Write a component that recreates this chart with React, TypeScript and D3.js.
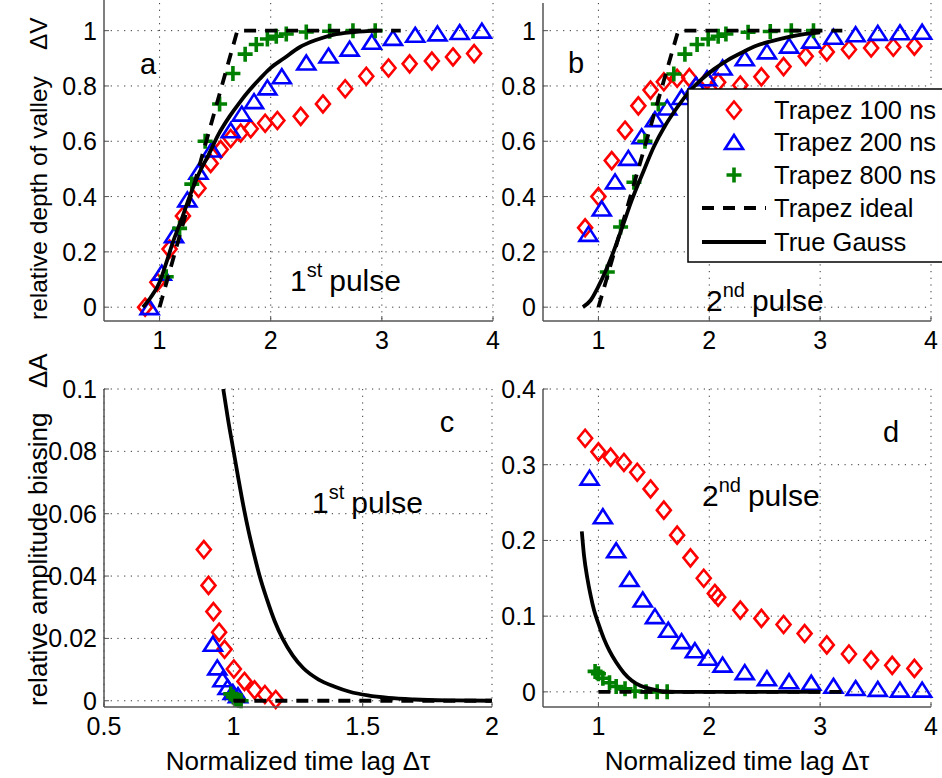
import { useEffect, useRef } from "react";
import * as d3 from "d3";

// ---- panel a (1st pulse, relative depth of valley) ----
const aT100X = [0.87, 0.98, 1.09, 1.21, 1.35, 1.46, 1.55, 1.64, 1.73, 1.82, 1.95, 2.06, 2.27, 2.47, 2.67, 2.86, 3.06, 3.25, 3.45, 3.64, 3.83];
const aT100Y = [0.0, 0.09, 0.21, 0.33, 0.43, 0.52, 0.57, 0.61, 0.63, 0.645, 0.665, 0.675, 0.69, 0.735, 0.79, 0.835, 0.865, 0.88, 0.89, 0.905, 0.917];
const aT200X = [0.91, 1.02, 1.13, 1.25, 1.35, 1.47, 1.64, 1.74, 1.85, 1.97, 2.1, 2.32, 2.52, 2.71, 2.91, 3.1, 3.3, 3.5, 3.7, 3.9];
const aT200Y = [0.0, 0.125, 0.26, 0.39, 0.49, 0.57, 0.64, 0.7, 0.745, 0.795, 0.835, 0.885, 0.91, 0.935, 0.96, 0.974, 0.985, 0.99, 0.995, 1.0];
const aT800X = [1.06, 1.18, 1.29, 1.41, 1.54, 1.66, 1.77, 1.87, 1.97, 2.05, 2.14, 2.32, 2.53, 2.74, 2.94];
const aT800Y = [0.11, 0.285, 0.445, 0.6, 0.735, 0.845, 0.915, 0.95, 0.97, 0.98, 0.988, 0.995, 0.998, 1.0, 1.0];
const aIdealX = [1.0, 1.7, 3.17];
const aIdealY = [0, 1, 1];
const aGaussX = [0.85, 0.92, 1.0, 1.06, 1.12, 1.2, 1.27, 1.35, 1.44, 1.53, 1.63, 1.72, 1.81, 1.9, 1.99, 2.12, 2.26, 2.4, 2.56, 2.75, 2.96];
const aGaussY = [0, 0.035, 0.09, 0.16, 0.235, 0.32, 0.4, 0.48, 0.55, 0.625, 0.69, 0.74, 0.785, 0.825, 0.862, 0.9, 0.94, 0.965, 0.985, 0.995, 1.0];

// ---- panel b (2nd pulse, relative depth of valley) ----
const bT100X = [0.88, 1.0, 1.12, 1.24, 1.36, 1.47, 1.59, 1.71, 1.82, 1.98, 2.08, 2.28, 2.47, 2.67, 2.87, 3.06, 3.26, 3.46, 3.66, 3.85];
const bT100Y = [0.287, 0.4, 0.53, 0.64, 0.728, 0.785, 0.815, 0.828, 0.83, 0.82, 0.813, 0.803, 0.833, 0.87, 0.907, 0.923, 0.932, 0.937, 0.94, 0.944];
const bT200X = [0.91, 1.03, 1.15, 1.27, 1.39, 1.51, 1.62, 1.75, 1.88, 1.98, 2.12, 2.32, 2.52, 2.72, 2.92, 3.12, 3.32, 3.52, 3.72, 3.92];
const bT200Y = [0.265, 0.357, 0.455, 0.54, 0.618, 0.68, 0.722, 0.76, 0.805, 0.828, 0.867, 0.9, 0.925, 0.946, 0.964, 0.978, 0.987, 0.992, 0.994, 0.996];
const bT800X = [1.08, 1.2, 1.32, 1.42, 1.54, 1.68, 1.78, 1.89, 1.99, 2.08, 2.15, 2.35, 2.55, 2.74, 2.94];
const bT800Y = [0.127, 0.29, 0.452, 0.6, 0.735, 0.843, 0.915, 0.95, 0.97, 0.98, 0.988, 0.994, 0.997, 1.0, 1.0];
const bIdealX = [1.0, 1.72, 3.2];
const bIdealY = [0, 1, 1];
const bGaussX = [0.86, 0.93, 1.0, 1.07, 1.14, 1.22, 1.3, 1.4, 1.5, 1.6, 1.71, 1.81, 1.92, 2.04, 2.16, 2.3, 2.43, 2.58, 2.73, 2.87, 3.0];
const bGaussY = [0, 0.025, 0.075, 0.135, 0.205, 0.295, 0.386, 0.485, 0.58, 0.655, 0.722, 0.775, 0.82, 0.86, 0.892, 0.922, 0.946, 0.964, 0.978, 0.988, 0.994];

// ---- panel c (1st pulse, amplitude biasing) ----
const cT100X = [0.886, 0.904, 0.923, 0.945, 0.966, 1.002, 1.043, 1.082, 1.122, 1.164];
const cT100Y = [0.0485, 0.037, 0.0286, 0.022, 0.0165, 0.0102, 0.0062, 0.0035, 0.002, 0.0004];
const cT200X = [0.921, 0.938, 0.958, 0.978, 0.998, 1.018];
const cT200Y = [0.0183, 0.0107, 0.0069, 0.0044, 0.0028, 0.0018];
const cT800X = [0.99, 1.0, 1.01, 1.02, 1.03];
const cT800Y = [0.0022, 0.0012, 0.0005, 0.0002, 0.0];
const cIdealX = [1.0, 3.2];
const cIdealY = [0, 0];
const cGaussX = [0.961, 0.98, 1.0, 1.02, 1.04, 1.06, 1.08, 1.1, 1.13, 1.16, 1.19, 1.23, 1.27, 1.33, 1.39, 1.45, 1.52, 1.6, 1.7, 1.85, 2.0];
const cGaussY = [0.1, 0.09, 0.0805, 0.071, 0.062, 0.054, 0.047, 0.0405, 0.0325, 0.0255, 0.02, 0.0145, 0.0105, 0.0068, 0.0046, 0.0029, 0.0017, 0.0009, 0.0004, 0.0001, 0.0];

// ---- panel d (2nd pulse, amplitude biasing) ----
const dT100X = [0.88, 1.0, 1.11, 1.23, 1.35, 1.47, 1.59, 1.71, 1.83, 1.95, 2.05, 2.08, 2.28, 2.47, 2.67, 2.86, 3.06, 3.26, 3.46, 3.65, 3.85];
const dT100Y = [0.335, 0.317, 0.31, 0.303, 0.29, 0.268, 0.24, 0.207, 0.177, 0.15, 0.13, 0.125, 0.108, 0.097, 0.089, 0.077, 0.062, 0.05, 0.042, 0.035, 0.031];
const dT200X = [0.92, 1.04, 1.16, 1.28, 1.4, 1.51, 1.63, 1.75, 1.87, 1.99, 2.12, 2.32, 2.52, 2.72, 2.92, 3.12, 3.32, 3.52, 3.72, 3.92];
const dT200Y = [0.283, 0.232, 0.187, 0.149, 0.122, 0.1, 0.082, 0.067, 0.055, 0.045, 0.036, 0.026, 0.018, 0.014, 0.012, 0.008, 0.005, 0.004, 0.003, 0.003];
const dT800X = [0.97, 1.0, 1.04, 1.1, 1.16, 1.24, 1.33, 1.43, 1.53, 1.62];
const dT800Y = [0.027, 0.024, 0.018, 0.012, 0.007, 0.004, 0.001, 0.0, 0.0, 0.0];
const dIdealX = [1.0, 3.2];
const dIdealY = [0, 0];
const dGaussX = [0.85, 0.87, 0.9, 0.93, 0.96, 1.0, 1.05, 1.1, 1.16, 1.23, 1.3, 1.38, 1.47, 1.57, 1.7, 2.0, 2.5, 3.0];
const dGaussY = [0.212, 0.18, 0.15, 0.127, 0.108, 0.09, 0.07, 0.054, 0.039, 0.025, 0.015, 0.008, 0.004, 0.001, 0.0, 0.0, 0.0, 0.0];

const xTicksWide = [1, 2, 3, 4];
const xTicksC = [0.5, 1, 1.5, 2];
const yTicksTop = [0, 0.2, 0.4, 0.6, 0.8, 1];
const yTicksC = [0, 0.02, 0.04, 0.06, 0.08, 0.1];
const yTicksD = [0, 0.1, 0.2, 0.3, 0.4];
const legendLabels = ["Trapez 100 ns", "Trapez 200 ns", "Trapez 800 ns", "Trapez ideal", "True Gauss"];

const FONT = "Liberation Sans, Arial, Helvetica, sans-serif";
const RED = "#ff0000";
const BLUE = "#0000ff";
const GREEN = "#008000";

const zip = (xs, ys) => xs.map((x, i) => [x, ys[i]]);
const fmt = (v) => String(+v.toFixed(4));

const markerPath = {
  diamond: "M0,-8.5L7,0L0,8.5L-7,0Z",
  triangle: "M0,-7L9,7L-9,7Z",
  plus: "M-7.5,0H7.5M0,-7.5V7.5",
};
const markerStyle = {
  diamond: { stroke: RED, width: 2.6 },
  triangle: { stroke: BLUE, width: 2.6 },
  plus: { stroke: GREEN, width: 3.6 },
};

function drawPanel(svg, p, idx) {
  const x = d3.scaleLinear().domain(p.xDomain).range([p.left, p.right]);
  const y = d3.scaleLinear().domain(p.yDomain).range([p.bottom, p.top]);
  const g = svg.append("g");

  // grid
  g.selectAll(".gx")
    .data(p.xTicks)
    .join("line")
    .attr("x1", (d) => x(d))
    .attr("x2", (d) => x(d))
    .attr("y1", p.top)
    .attr("y2", p.bottom)
    .attr("stroke", "#333")
    .attr("stroke-width", 1)
    .attr("stroke-dasharray", "1.2,5.5");
  g.selectAll(".gy")
    .data(p.yTicks)
    .join("line")
    .attr("x1", p.left)
    .attr("x2", p.right)
    .attr("y1", (d) => y(d))
    .attr("y2", (d) => y(d))
    .attr("stroke", "#333")
    .attr("stroke-width", 1)
    .attr("stroke-dasharray", "1.2,5.5");

  const clipId = "clip" + idx;
  svg
    .append("clipPath")
    .attr("id", clipId)
    .append("rect")
    .attr("x", p.left)
    .attr("y", p.top)
    .attr("width", p.right - p.left)
    .attr("height", p.bottom - p.top);

  // markers
  p.series.forEach((s) => {
    const st = markerStyle[s.marker];
    g.append("g")
      .selectAll("path")
      .data(zip(s.x, s.y))
      .join("path")
      .attr("transform", (d) => `translate(${x(d[0])},${y(d[1])})`)
      .attr("d", markerPath[s.marker])
      .attr("fill", "none")
      .attr("stroke", st.stroke)
      .attr("stroke-width", st.width)
      .attr("stroke-linejoin", "miter");
  });

  const line = d3
    .line()
    .x((d) => x(d[0]))
    .y((d) => y(d[1]));

  g.append("path")
    .attr("clip-path", `url(#${clipId})`)
    .attr("d", line(zip(p.idealX, p.idealY)))
    .attr("fill", "none")
    .attr("stroke", "#000")
    .attr("stroke-width", 3.8)
    .attr("stroke-dasharray", "12,9");

  g.append("path")
    .attr("clip-path", `url(#${clipId})`)
    .attr("d", line.curve(d3.curveMonotoneX)(zip(p.gaussX, p.gaussY)))
    .attr("fill", "none")
    .attr("stroke", "#000")
    .attr("stroke-width", 3.8);

  // axes
  g.append("line")
    .attr("x1", p.left)
    .attr("x2", p.left)
    .attr("y1", p.axisTop)
    .attr("y2", p.bottom)
    .attr("stroke", "#555")
    .attr("stroke-width", 1.5);
  g.append("line")
    .attr("x1", p.left)
    .attr("x2", p.right)
    .attr("y1", p.bottom)
    .attr("y2", p.bottom)
    .attr("stroke", "#555")
    .attr("stroke-width", 1.5);
  g.selectAll(".tx")
    .data(p.xTicks)
    .join("line")
    .attr("x1", (d) => x(d))
    .attr("x2", (d) => x(d))
    .attr("y1", p.bottom)
    .attr("y2", p.bottom - 5)
    .attr("stroke", "#555");
  g.selectAll(".ty")
    .data(p.yTicks)
    .join("line")
    .attr("x1", p.left)
    .attr("x2", p.left + 5)
    .attr("y1", (d) => y(d))
    .attr("y2", (d) => y(d))
    .attr("stroke", "#555");

  g.selectAll(".lx")
    .data(p.xTicks)
    .join("text")
    .attr("x", (d) => x(d))
    .attr("y", p.bottom + 28)
    .attr("text-anchor", "middle")
    .attr("font-size", 25)
    .attr("font-family", FONT)
    .text(fmt);
  g.selectAll(".ly")
    .data(p.yTicks)
    .join("text")
    .attr("x", p.left - 7)
    .attr("y", (d) => y(d))
    .attr("dy", "0.36em")
    .attr("text-anchor", "end")
    .attr("font-size", 25)
    .attr("font-family", FONT)
    .text(fmt);

  // panel letter
  g.append("text")
    .attr("x", p.letterPos[0])
    .attr("y", p.letterPos[1])
    .attr("text-anchor", "middle")
    .attr("font-size", 29)
    .attr("font-family", FONT)
    .text(p.letter);

  // pulse annotation
  const t = g
    .append("text")
    .attr("x", p.pulsePos[0])
    .attr("y", p.pulsePos[1])
    .attr("font-size", 30)
    .attr("font-family", FONT);
  t.append("tspan").text(p.pulse[0]);
  t.append("tspan").attr("dy", -14).attr("font-size", 20).text(p.pulse[1]);
  t.append("tspan").attr("dy", 14).attr("dx", 7).text("pulse");
}

export default function App() {
  const ref = useRef(null);

  useEffect(() => {
    const svg = d3.select(ref.current);
    svg.selectAll("*").remove();

    const mk = (t100x, t100y, t200x, t200y, t800x, t800y) => [
      { marker: "diamond", x: t100x, y: t100y },
      { marker: "triangle", x: t200x, y: t200y },
      { marker: "plus", x: t800x, y: t800y },
    ];

    const panels = [
      {
        left: 104, right: 493, top: 3, bottom: 321, axisTop: 0,
        xDomain: [0.5, 4], yDomain: [-0.05, 1.1], xTicks: xTicksWide, yTicks: yTicksTop,
        series: mk(aT100X, aT100Y, aT200X, aT200Y, aT800X, aT800Y),
        idealX: aIdealX, idealY: aIdealY, gaussX: aGaussX, gaussY: aGaussY,
        letter: "a", letterPos: [148, 74], pulse: ["1", "st"], pulsePos: [290, 291],
      },
      {
        left: 543, right: 931, top: 3, bottom: 321, axisTop: 3,
        xDomain: [0.5, 4], yDomain: [-0.05, 1.1], xTicks: xTicksWide, yTicks: yTicksTop,
        series: mk(bT100X, bT100Y, bT200X, bT200Y, bT800X, bT800Y),
        idealX: bIdealX, idealY: bIdealY, gaussX: bGaussX, gaussY: bGaussY,
        letter: "b", letterPos: [576, 73], pulse: ["2", "nd"], pulsePos: [706, 311],
      },
      {
        left: 104, right: 492, top: 389, bottom: 707, axisTop: 389,
        xDomain: [0.5, 2], yDomain: [-0.002, 0.1], xTicks: xTicksC, yTicks: yTicksC,
        series: mk(cT100X, cT100Y, cT200X, cT200Y, cT800X, cT800Y),
        idealX: cIdealX, idealY: cIdealY, gaussX: cGaussX, gaussY: cGaussY,
        letter: "c", letterPos: [447, 432], pulse: ["1", "st"], pulsePos: [312, 513],
      },
      {
        left: 543, right: 931, top: 389, bottom: 707, axisTop: 389,
        xDomain: [0.5, 4], yDomain: [-0.02, 0.4], xTicks: xTicksWide, yTicks: yTicksD,
        series: mk(dT100X, dT100Y, dT200X, dT200Y, dT800X, dT800Y),
        idealX: dIdealX, idealY: dIdealY, gaussX: dGaussX, gaussY: dGaussY,
        letter: "d", letterPos: [891, 442], pulse: ["2", "nd"], pulsePos: [702, 506],
      },
    ];
    panels.forEach((p, i) => drawPanel(svg, p, i));

    // axis labels
    const ylab = (txt, sym, yStart, ySym, size) => {
      svg.append("text")
        .attr("transform", `translate(47,${yStart}) rotate(-90)`)
        .attr("font-size", size)
        .attr("font-family", FONT)
        .text(txt);
      svg.append("text")
        .attr("transform", `translate(47,${ySym}) rotate(-90)`)
        .attr("font-size", size)
        .attr("font-family", FONT)
        .text(sym);
    };
    ylab("relative depth of valley", "ΔV", 320, 50, 24.5);
    ylab("relative amplitude biasing", "ΔA", 706, 388, 26);

    [298, 737].forEach((cx) => {
      svg.append("text")
        .attr("x", cx)
        .attr("y", 770)
        .attr("text-anchor", "middle")
        .attr("font-size", 26)
        .attr("font-family", FONT)
        .text("Normalized time lag Δτ");
    });

    // legend
    const lg = svg.append("g");
    lg.append("rect")
      .attr("x", 688)
      .attr("y", 89)
      .attr("width", 270)
      .attr("height", 173)
      .attr("fill", "#fff")
      .attr("stroke", "#000")
      .attr("stroke-width", 1.5);
    const rows = [110, 142, 175, 208, 242];
    const kinds = ["diamond", "triangle", "plus"];
    kinds.forEach((k, i) => {
      lg.append("path")
        .attr("transform", `translate(734,${rows[i]})`)
        .attr("d", markerPath[k])
        .attr("fill", "none")
        .attr("stroke", markerStyle[k].stroke)
        .attr("stroke-width", markerStyle[k].width);
    });
    lg.append("line")
      .attr("x1", 702).attr("x2", 766).attr("y1", rows[3]).attr("y2", rows[3])
      .attr("stroke", "#000").attr("stroke-width", 3.8).attr("stroke-dasharray", "12,9");
    lg.append("line")
      .attr("x1", 702).attr("x2", 766).attr("y1", rows[4]).attr("y2", rows[4])
      .attr("stroke", "#000").attr("stroke-width", 3.8);
    lg.selectAll(".lt")
      .data(legendLabels)
      .join("text")
      .attr("x", 774)
      .attr("y", (d, i) => rows[i])
      .attr("dy", "0.36em")
      .attr("font-size", 25.5)
      .attr("font-family", FONT)
      .text((d) => d);
  }, []);

  return (
    <svg
      ref={ref}
      width={942}
      height={778}
      style={{ position: "absolute", left: 0, top: 0, background: "#fff" }}
    />
  );
}
